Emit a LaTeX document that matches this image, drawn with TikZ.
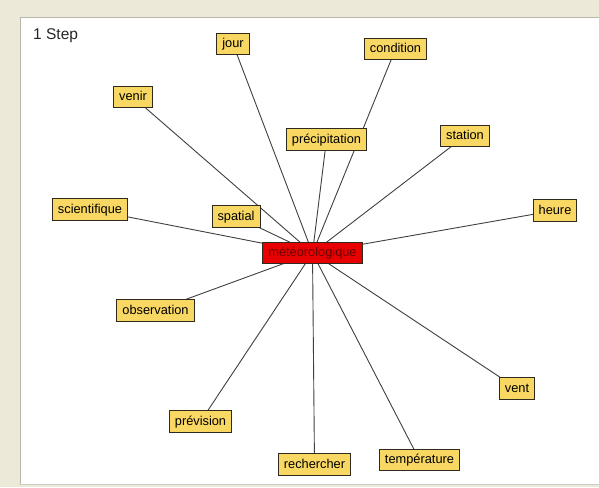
\documentclass[tikz,border=0pt]{standalone}
\usepackage{fontspec}
\setmainfont{Liberation Sans}
\pgfdeclarelayer{bgl}
\pgfdeclarelayer{edgel}
\pgfsetlayers{bgl,edgel,main}
\definecolor{beige}{HTML}{ECE9D8}
\definecolor{wordfill}{HTML}{F8D762}
\definecolor{wordline}{HTML}{2E2A1E}
\definecolor{hubfill}{HTML}{E80000}
\definecolor{hubtext}{HTML}{6A0000}
\definecolor{panelline}{HTML}{B8B6AC}
\tikzset{
  word/.style={draw=wordline, fill=wordfill, line width=1pt, inner xsep=5.5pt, inner ysep=0pt,
    text height=10pt, text depth=2.8pt, minimum height=21.5pt,
    font=\fontsize{12.8}{14}\selectfont},
  hub/.style={word, fill=hubfill, text=hubtext},
  link/.style={draw=black!75, line width=0.9pt},
}
\begin{document}
\begin{tikzpicture}[x=1pt,y=-1pt]
\useasboundingbox (0,0) rectangle (599,487);
\begin{pgfonlayer}{bgl}
  \fill[beige] (0,0) rectangle (599,487);
  \fill[white] (20,18) rectangle (599,484);
  \draw[panelline, line width=1pt] (20,484) -- (20,18) -- (599,18);
  \draw[panelline!70, line width=1pt] (20,484) -- (599,484);
\end{pgfonlayer}
\node[anchor=west, font=\fontsize{15.5}{17}\selectfont, inner sep=0pt, text=black!85] (title) at (33,36) {1 Step};
\node[hub] (m) at (312.5,253) {météorologique};
\node[word] (jour) at (233,44) {jour};
\node[word] (venir) at (133,97) {venir};
\node[word] (scientifique) at (90,209.5) {scientifique};
\node[word] (spatial) at (236,216.5) {spatial};
\node[word] (condition) at (395.5,49) {condition};
\node[word] (precipitation) at (326.5,139.5) {précipitation};
\node[word] (station) at (465,136) {station};
\node[word] (heure) at (555,210.5) {heure};
\node[word] (observation) at (155.5,310.5) {observation};
\node[word] (prevision) at (200.5,421.5) {prévision};
\node[word] (rechercher) at (314.5,464.5) {rechercher};
\node[word] (temperature) at (419.5,460) {température};
\node[word] (vent) at (517,388.5) {vent};
\begin{pgfonlayer}{edgel}
  \foreach \n in {jour,venir,scientifique,spatial,condition,precipitation,station,heure,observation,prevision,rechercher,temperature,vent}
    \draw[link] (\n.center) -- (m.center);
\end{pgfonlayer}
\end{tikzpicture}
\end{document}
